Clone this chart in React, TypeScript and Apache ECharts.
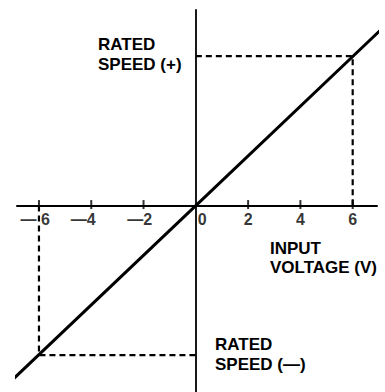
import React, { useEffect, useRef } from "react";
import * as echarts from "echarts";

// Transfer characteristic: input voltage (V) vs speed (% of rated)
const VOLTAGE = [-7.1, 0, 7.1];
const SPEED = [-118, 0, 118];
const RATED_VOLTAGE = 6;
const RATED_SPEED = 100;
const TICK_VALUES = [-6, -4, -2, 0, 2, 4, 6];
const TICK_LABELS = ["— 6", "—4", "—2", "0", "2", "4", "6"];
const ANNOTATIONS = ["RATED\nSPEED (+)", "INPUT\nVOLTAGE (V)", "RATED\nSPEED (—)"];

const FONT = '"Liberation Sans", Arial, Helvetica, sans-serif';

export default function App() {
  const ref = useRef<HTMLDivElement>(null);
  useEffect(() => {
    if (!ref.current) return;
    const chart = echarts.init(ref.current, null, { renderer: "svg" });

    const labelStyle = (v: number) => {
      if (v < 0) {
        const dx = v === -6 ? 11 : v === -4 ? 4.5 : 8.5;
        return { align: "right", offset: [dx, 13.5] };
      }
      if (v === 0) return { align: "left", offset: [2, 13.5] };
      return { align: "center", offset: [0, 13.5] };
    };

    const option: any = {
      animation: false,
      backgroundColor: "#ffffff",
      grid: { left: 17, right: 8, top: 10, bottom: 0 },
      xAxis: {
        type: "value",
        min: -6.84,
        max: 6.93,
        axisLine: { show: true, onZero: true, lineStyle: { color: "#000", width: 2 } },
        axisTick: { show: false },
        axisLabel: { show: false },
        splitLine: { show: false },
      },
      yAxis: {
        type: "value",
        min: -124.7,
        max: 130.8,
        axisLine: { show: true, onZero: true, lineStyle: { color: "#000", width: 1.8 } },
        axisTick: { show: false },
        axisLabel: { show: false },
        splitLine: { show: false },
      },
      series: [
        {
          type: "line",
          name: "rated+",
          data: [
            [0, RATED_SPEED],
            [RATED_VOLTAGE, RATED_SPEED],
            [RATED_VOLTAGE, 0],
          ],
          symbol: "none",
          lineStyle: { color: "#000", width: 2.2, type: [6, 4] },
          z: 2,
        },
        {
          type: "line",
          name: "rated-",
          data: [
            [-RATED_VOLTAGE, 0],
            [-RATED_VOLTAGE, -RATED_SPEED],
            [0, -RATED_SPEED],
          ],
          symbol: "none",
          lineStyle: { color: "#000", width: 2.2, type: [6, 4] },
          z: 2,
        },
        {
          type: "line",
          name: "characteristic",
          data: VOLTAGE.map((v, i) => [v, SPEED[i]]),
          symbol: "none",
          clip: false,
          lineStyle: { color: "#000", width: 3 },
          z: 3,
        },
        {
          type: "scatter",
          name: "ticks",
          data: TICK_VALUES.filter((v) => v !== 0).map((v) => [v, 0]),
          symbol: "rect",
          symbolSize: [2, 9],
          symbolOffset: [0, -1],
          itemStyle: { color: "#000" },
          z: 4,
        },
        {
          type: "scatter",
          name: "tickLabels",
          data: TICK_VALUES.map((v, i) => ({
            value: [v, 0],
            label: {
              show: true,
              formatter: TICK_LABELS[i],
              position: "inside",
              verticalAlign: "middle",
              ...labelStyle(v),
            },
          })),
          symbolSize: 1,
          itemStyle: { color: "transparent" },
          label: {
            color: "#000",
            fontFamily: FONT,
            fontWeight: "bold",
            fontSize: 16,
          },
          z: 5,
        },
      ],
      graphic: [
        { pos: [98, 34], lh: 20 },
        { pos: [270, 239], lh: 19 },
        { pos: [215, 335], lh: 19.5 },
      ].map((a, i) => ({
        type: "text",
        x: a.pos[0],
        y: a.pos[1],
        style: {
          text: ANNOTATIONS[i],
          fill: "#000",
          fontFamily: FONT,
          fontWeight: "bold",
          fontSize: 17,
          lineHeight: a.lh,
          align: "left",
          verticalAlign: "top",
        },
      })),
    };
    chart.setOption(option);
    return () => chart.dispose();
  }, []);

  return (
    <div
      ref={ref}
      style={{ position: "fixed", left: 0, top: 0, width: 385, height: 392, background: "#fff" }}
    />
  );
}
